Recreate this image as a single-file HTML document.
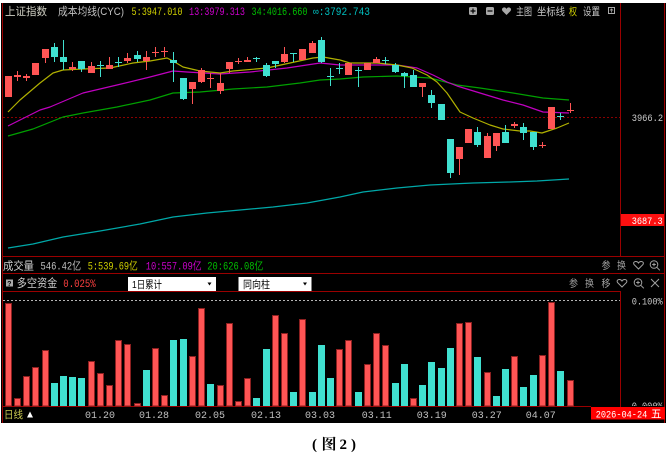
<!DOCTYPE html>
<html><head><meta charset="utf-8"><style>
html,body{margin:0;padding:0;background:#fff;}
svg{display:block;}
.cj{font-family:"Liberation Sans","Noto Sans CJK SC",sans-serif;}
.mn{font-family:"Liberation Mono","Noto Sans CJK SC",monospace;}
</style></head><body>
<svg width="668" height="464" viewBox="0 0 668 464" xmlns="http://www.w3.org/2000/svg">
<defs><clipPath id="cb"><rect x="621" y="292" width="44" height="114"/></clipPath></defs>
<rect x="0" y="0" width="668" height="464" fill="#fff"/>
<rect x="1" y="3" width="665" height="420" fill="#000"/>

<!-- borders -->
<g fill="#9a0000" shape-rendering="crispEdges">
<rect x="2" y="3" width="1" height="420"/>
<rect x="664" y="3" width="1" height="420"/>
<rect x="620" y="3" width="1" height="254"/>
<rect x="620" y="291" width="1" height="116"/>
<rect x="2" y="256" width="663" height="1"/>
<rect x="2" y="273" width="663" height="1"/>
<rect x="2" y="291" width="619" height="1"/>
<rect x="2" y="406" width="589" height="1"/>
</g>
<line x1="3" y1="117.5" x2="620" y2="117.5" stroke="#8a0000" stroke-width="1" stroke-dasharray="2,2"/>
<line x1="3" y1="300.5" x2="620" y2="300.5" stroke="#b4b4b4" stroke-width="1" stroke-dasharray="2,2"/>

<!-- title row -->
<text class="cj" x="5" y="15" font-size="11" fill="#d0d0c4" textLength="42" lengthAdjust="spacingAndGlyphs">上证指数</text>
<text class="cj" x="58" y="15" font-size="11" fill="#c0c0c0" textLength="66" lengthAdjust="spacingAndGlyphs">成本均线(CYC)</text>
<text class="mn" x="131.5" y="15" font-size="11" fill="#d0d000" textLength="51" lengthAdjust="spacingAndGlyphs">5:3947.010</text>
<text class="mn" x="189" y="15" font-size="11" fill="#d000d0" textLength="56" lengthAdjust="spacingAndGlyphs">13:3979.313</text>
<text class="mn" x="251.5" y="15" font-size="11" fill="#00c000" textLength="56" lengthAdjust="spacingAndGlyphs">34:4016.660</text>
<text class="mn" x="313" y="15" font-size="11" fill="#00c0c0" textLength="57" lengthAdjust="spacingAndGlyphs">∞:3792.743</text>

<!-- top right toolbar -->
<rect x="469" y="7" width="8" height="8" rx="1.5" fill="#a8a8a8"/>
<path d="M470.5 11h5M473 8.5v5" stroke="#000" stroke-width="1.2"/>
<rect x="486" y="7" width="8" height="8" rx="1.5" fill="#a8a8a8"/>
<path d="M487.5 11h5" stroke="#000" stroke-width="1.2"/>
<path d="M506.5 15 L502.5 11 Q501 8.5 503.5 7.5 Q505.5 7 506.5 9 Q507.5 7 509.5 7.5 Q512 8.5 510.5 11 Z" fill="#a8a8a8"/>
<text class="cj" x="516" y="15" font-size="10.5" fill="#c8c8c8" textLength="16" lengthAdjust="spacingAndGlyphs">主图</text>
<text class="cj" x="537" y="15" font-size="10.5" fill="#c8c8c8" textLength="28" lengthAdjust="spacingAndGlyphs">坐标线</text>
<text class="cj" x="569" y="15" font-size="10.5" fill="#d0d000" textLength="8" lengthAdjust="spacingAndGlyphs">权</text>
<text class="cj" x="583" y="15" font-size="10.5" fill="#c8c8c8" textLength="17" lengthAdjust="spacingAndGlyphs">设置</text>
<rect x="608.5" y="7.5" width="6" height="6" fill="none" stroke="#a8a8a8" stroke-width="1"/>
<path d="M611.5 9v3.5M610 10.5l1.5-1.5 1.5 1.5" stroke="#a8a8a8" stroke-width="0.8" fill="none"/>

<!-- axis labels -->
<text class="mn" x="631.7" y="121" font-size="10" fill="#c8c8c8" textLength="31.5" lengthAdjust="spacingAndGlyphs">3966.2</text>
<rect x="621" y="214" width="43" height="12" fill="#ff1010"/>
<text class="mn" x="631.7" y="224" font-size="10" fill="#ffffff" textLength="31" lengthAdjust="spacingAndGlyphs">3687.3</text>

<!-- MA lines -->
<g fill="none" stroke-width="1.2" stroke-linejoin="round">
<polyline stroke="#00a8a8" points="8,248 33,244 63,237 100,231 140,224 173,217 207,213 240,210 273,207 307,203 340,197 363,192 397,188 430,185 473,183 510,182 537,181 569,179"/>
<polyline stroke="#00a000" points="8,136 33,129 63,117 83,113 117,107 150,100 173,93 200,92 233,89 267,87 300,83 320,80 340,79 363,77 397,76 430,78 457,85 480,88 513,93 543,98 569,100"/>
<polyline stroke="#c000c0" points="8,126 40,110 50,107 83,93 117,85 150,77 173,71 187,72 220,74 250,72 287,68 320,63 340,65 350,65 397,65 417,68 433,75 447,82 457,86 480,93 503,100 523,105 543,112 569,113"/>
<polyline stroke="#b0b000" points="8,112 20,100 40,83 53,73 63,70 83,69 110,68 133,63 150,61 167,58 173,61 183,67 200,71 220,73 233,71 267,68 290,63 313,58 323,57 340,60 350,63 377,63 397,65 412,68 427,75 437,82 447,93 460,112 473,118 490,125 503,129 520,131 530,131 542,133 557,128 569,123"/>
</g>

<!-- candles red -->
<g fill="#ff5555" shape-rendering="crispEdges">
<rect x="5" y="76" width="7" height="21"/>
<rect x="17" y="71" width="1" height="10"/><rect x="14" y="75" width="7" height="2"/>
<rect x="26" y="74" width="1" height="7"/><rect x="23" y="76" width="7" height="2"/>
<rect x="32" y="63" width="7" height="12"/>
<rect x="45" y="49" width="1" height="14"/><rect x="42" y="49" width="7" height="9"/>
<rect x="72" y="62" width="1" height="9"/><rect x="69" y="67" width="7" height="2"/>
<rect x="91" y="62" width="1" height="11"/><rect x="88" y="66" width="7" height="7"/>
<rect x="109" y="57" width="1" height="12"/><rect x="106" y="65" width="7" height="4"/>
<rect x="127" y="53" width="1" height="10"/><rect x="124" y="58" width="7" height="3"/>
<rect x="146" y="51" width="1" height="19"/><rect x="143" y="57" width="7" height="4"/>
<rect x="155" y="47" width="1" height="10"/><rect x="152" y="52" width="7" height="1"/>
<rect x="164" y="47" width="1" height="10"/><rect x="161" y="51" width="7" height="1"/>
<rect x="192" y="82" width="1" height="22"/><rect x="189" y="82" width="7" height="7"/>
<rect x="201" y="68" width="1" height="15"/><rect x="198" y="70" width="7" height="12"/>
<rect x="210" y="73" width="1" height="15"/><rect x="207" y="78" width="7" height="1"/>
<rect x="220" y="73" width="1" height="21"/><rect x="217" y="83" width="7" height="8"/>
<rect x="229" y="62" width="1" height="11"/><rect x="226" y="62" width="7" height="7"/>
<rect x="238" y="58" width="1" height="6"/><rect x="235" y="61" width="7" height="1"/>
<rect x="247" y="57" width="1" height="5"/><rect x="244" y="60" width="7" height="2"/>
<rect x="284" y="47" width="1" height="16"/><rect x="281" y="54" width="7" height="8"/>
<rect x="299" y="49" width="7" height="11"/>
<rect x="312" y="41" width="1" height="12"/><rect x="309" y="43" width="7" height="10"/>
<rect x="345" y="63" width="7" height="12"/>
<rect x="364" y="63" width="7" height="7"/>
<rect x="376" y="57" width="1" height="6"/><rect x="373" y="59" width="7" height="4"/>
<rect x="422" y="83" width="1" height="14"/><rect x="419" y="83" width="7" height="4"/>
<rect x="459" y="147" width="1" height="28"/><rect x="456" y="147" width="7" height="12"/>
<rect x="465" y="129" width="7" height="14"/>
<rect x="487" y="133" width="1" height="25"/><rect x="484" y="136" width="7" height="22"/>
<rect x="496" y="133" width="1" height="18"/><rect x="493" y="133" width="7" height="13"/>
<rect x="514" y="122" width="1" height="6"/><rect x="511" y="124" width="7" height="2"/>
<rect x="542" y="142" width="1" height="6"/><rect x="539" y="145" width="7" height="1"/>
<rect x="548" y="107" width="7" height="22"/>
<rect x="570" y="103" width="1" height="10"/><rect x="567" y="110" width="7" height="1"/>
</g>
<!-- candles cyan -->
<g fill="#40e0d0" shape-rendering="crispEdges">
<rect x="54" y="43" width="1" height="19"/><rect x="51" y="47" width="7" height="10"/>
<rect x="63" y="40" width="1" height="30"/><rect x="60" y="57" width="7" height="5"/>
<rect x="81" y="61" width="1" height="11"/><rect x="78" y="61" width="7" height="8"/>
<rect x="100" y="61" width="1" height="16"/><rect x="97" y="65" width="7" height="1"/>
<rect x="118" y="57" width="1" height="10"/><rect x="115" y="62" width="7" height="1"/>
<rect x="137" y="51" width="1" height="11"/><rect x="134" y="55" width="7" height="4"/>
<rect x="173" y="52" width="1" height="30"/><rect x="170" y="60" width="7" height="3"/>
<rect x="183" y="78" width="1" height="22"/><rect x="180" y="78" width="7" height="21"/>
<rect x="256" y="57" width="1" height="5"/><rect x="253" y="58" width="7" height="1"/>
<rect x="266" y="63" width="1" height="14"/><rect x="263" y="65" width="7" height="11"/>
<rect x="275" y="61" width="1" height="7"/><rect x="272" y="61" width="7" height="3"/>
<rect x="293" y="53" width="1" height="9"/><rect x="290" y="53" width="7" height="1"/>
<rect x="321" y="37" width="1" height="26"/><rect x="318" y="40" width="7" height="22"/>
<rect x="330" y="68" width="1" height="18"/><rect x="327" y="76" width="7" height="1"/>
<rect x="339" y="63" width="1" height="11"/><rect x="336" y="68" width="7" height="1"/>
<rect x="358" y="67" width="1" height="20"/><rect x="355" y="70" width="7" height="1"/>
<rect x="385" y="57" width="1" height="7"/><rect x="382" y="60" width="7" height="1"/>
<rect x="395" y="63" width="1" height="10"/><rect x="392" y="65" width="7" height="7"/>
<rect x="404" y="72" width="1" height="16"/><rect x="401" y="73" width="7" height="3"/>
<rect x="413" y="70" width="1" height="17"/><rect x="410" y="75" width="7" height="12"/>
<rect x="431" y="90" width="1" height="18"/><rect x="428" y="95" width="7" height="8"/>
<rect x="438" y="104" width="7" height="16"/>
<rect x="450" y="139" width="1" height="39"/><rect x="447" y="139" width="7" height="34"/>
<rect x="477" y="127" width="1" height="20"/><rect x="474" y="132" width="7" height="13"/>
<rect x="505" y="125" width="1" height="18"/><rect x="502" y="132" width="7" height="11"/>
<rect x="523" y="123" width="1" height="17"/><rect x="520" y="127" width="7" height="6"/>
<rect x="533" y="132" width="1" height="18"/><rect x="530" y="132" width="7" height="15"/>
<rect x="560" y="113" width="1" height="7"/><rect x="557" y="116" width="7" height="1"/>
</g>

<!-- volume row -->
<text class="cj" x="3" y="269.5" font-size="11" fill="#d0d0d0" textLength="31" lengthAdjust="spacingAndGlyphs">成交量</text>
<text class="mn" x="40.5" y="269.5" font-size="11" fill="#c0c0c0" textLength="40.5" lengthAdjust="spacingAndGlyphs">546.42亿</text>
<text class="mn" x="87.7" y="269.5" font-size="11" fill="#d0d000" textLength="50" lengthAdjust="spacingAndGlyphs">5:539.69亿</text>
<text class="mn" x="145.7" y="269.5" font-size="11" fill="#d000d0" textLength="56" lengthAdjust="spacingAndGlyphs">10:557.09亿</text>
<text class="mn" x="207.3" y="269.5" font-size="11" fill="#00c000" textLength="56" lengthAdjust="spacingAndGlyphs">20:626.08亿</text>
<g fill="#a0a0a0">
<text class="cj" x="601.5" y="269" font-size="10" textLength="9" lengthAdjust="spacingAndGlyphs">参</text>
<text class="cj" x="617" y="269" font-size="10" textLength="9" lengthAdjust="spacingAndGlyphs">换</text>
</g>
<path d="M638.5 269 L634 264.5 Q632.8 262 635.5 261.5 Q637.5 261.2 638.5 263 Q639.5 261.2 641.5 261.5 Q644.2 262 643 264.5 Z" fill="none" stroke="#a0a0a0" stroke-width="1"/>
<circle cx="654" cy="264.5" r="3.8" fill="none" stroke="#a0a0a0" stroke-width="1"/>
<path d="M656.8 267.3l3 3M652.2 264.5h3.6M654 262.7v3.6" stroke="#a0a0a0" stroke-width="1"/>

<!-- indicator header row -->
<rect x="6" y="279.5" width="7" height="7" fill="#a8a8a8"/>
<text class="mn" x="7.3" y="285.8" font-size="7" font-weight="bold" fill="#000">?</text>
<text class="cj" x="16.7" y="287" font-size="11.5" fill="#d0d0d0" textLength="40.6" lengthAdjust="spacingAndGlyphs">多空资金</text>
<text class="mn" x="63.3" y="287" font-size="11" fill="#ff4040" textLength="32.4" lengthAdjust="spacingAndGlyphs">0.025%</text>
<rect x="128" y="277" width="88" height="14" fill="#fff"/>
<text class="cj" x="132" y="288" font-size="10.5" fill="#000" textLength="30" lengthAdjust="spacingAndGlyphs">1日累计</text>
<polygon points="207.5,282.5 211.5,282.5 209.5,285.5" fill="#000"/>
<rect x="238.5" y="277" width="73" height="14" fill="#fff"/>
<text class="cj" x="243" y="288" font-size="10.5" fill="#000" textLength="27" lengthAdjust="spacingAndGlyphs">同向柱</text>
<polygon points="303,282.5 307,282.5 305,285.5" fill="#000"/>
<g fill="#a0a0a0">
<text class="cj" x="569" y="287" font-size="10" textLength="9" lengthAdjust="spacingAndGlyphs">参</text>
<text class="cj" x="585" y="287" font-size="10" textLength="9" lengthAdjust="spacingAndGlyphs">换</text>
<text class="cj" x="601.5" y="287" font-size="10" textLength="9" lengthAdjust="spacingAndGlyphs">移</text>
</g>
<path d="M622 287 L617.5 282.5 Q616.3 280 619 279.5 Q621 279.2 622 281 Q623 279.2 625 279.5 Q627.7 280 626.5 282.5 Z" fill="none" stroke="#a0a0a0" stroke-width="1"/>
<circle cx="638" cy="282.5" r="3.8" fill="none" stroke="#a0a0a0" stroke-width="1"/>
<path d="M640.8 285.3l3 3M636.2 282.5h3.6M638 280.7v3.6" stroke="#a0a0a0" stroke-width="1"/>
<path d="M651 279l8 8M659 279l-8 8" stroke="#a0a0a0" stroke-width="1"/>

<text class="mn" x="631.7" y="304.5" font-size="10" fill="#c8c8c8" textLength="31" lengthAdjust="spacingAndGlyphs">0.100%</text>
<text class="mn" x="631.7" y="409" font-size="10" fill="#c8c8c8" textLength="31" lengthAdjust="spacingAndGlyphs" clip-path="url(#cb)">0.000%</text>

<!-- indicator bars red -->
<g fill="#ff5555" stroke="#8c2020" stroke-width="1" shape-rendering="crispEdges">
<rect x="5.5" y="303.5" width="6" height="102.5"/>
<rect x="14.5" y="398.5" width="6" height="7.5"/>
<rect x="23.5" y="376.5" width="6" height="29.5"/>
<rect x="32.5" y="367.5" width="6" height="38.5"/>
<rect x="42.5" y="350.5" width="6" height="55.5"/>
<rect x="88.5" y="361.5" width="6" height="44.5"/>
<rect x="97.5" y="373.5" width="6" height="32.5"/>
<rect x="106.5" y="385.5" width="6" height="20.5"/>
<rect x="115.5" y="340.5" width="6" height="65.5"/>
<rect x="124.5" y="344.5" width="6" height="61.5"/>
<rect x="134.5" y="403.5" width="6" height="2.5"/>
<rect x="152.5" y="348.5" width="6" height="57.5"/>
<rect x="161.5" y="395.5" width="6" height="10.5"/>
<rect x="189.5" y="356.5" width="6" height="49.5"/>
<rect x="198.5" y="308.5" width="6" height="97.5"/>
<rect x="217.5" y="385.5" width="6" height="20.5"/>
<rect x="226.5" y="323.5" width="6" height="82.5"/>
<rect x="235.5" y="401.5" width="6" height="4.5"/>
<rect x="244.5" y="378.5" width="6" height="27.5"/>
<rect x="272.5" y="315.5" width="6" height="90.5"/>
<rect x="281.5" y="333.5" width="6" height="72.5"/>
<rect x="299.5" y="319.5" width="6" height="86.5"/>
<rect x="336.5" y="349.5" width="6" height="56.5"/>
<rect x="345.5" y="340.5" width="6" height="65.5"/>
<rect x="364.5" y="364.5" width="6" height="41.5"/>
<rect x="373.5" y="333.5" width="6" height="72.5"/>
<rect x="382.5" y="345.5" width="6" height="60.5"/>
<rect x="410.5" y="398.5" width="6" height="7.5"/>
<rect x="456.5" y="323.5" width="6" height="82.5"/>
<rect x="465.5" y="322.5" width="6" height="83.5"/>
<rect x="484.5" y="372.5" width="6" height="33.5"/>
<rect x="511.5" y="356.5" width="6" height="49.5"/>
<rect x="539.5" y="355.5" width="6" height="50.5"/>
<rect x="548.5" y="302.5" width="6" height="103.5"/>
<rect x="567.5" y="380.5" width="6" height="25.5"/>
</g>
<!-- indicator bars cyan -->
<g fill="#40e0d0" shape-rendering="crispEdges">
<rect x="51" y="383" width="7" height="23"/>
<rect x="60" y="376" width="7" height="30"/>
<rect x="69" y="377" width="7" height="29"/>
<rect x="78" y="378" width="7" height="28"/>
<rect x="143" y="370" width="7" height="36"/>
<rect x="170" y="340" width="7" height="66"/>
<rect x="180" y="339" width="7" height="67"/>
<rect x="207" y="384" width="7" height="22"/>
<rect x="253" y="398" width="7" height="8"/>
<rect x="263" y="349" width="7" height="57"/>
<rect x="290" y="392" width="7" height="14"/>
<rect x="309" y="392" width="7" height="14"/>
<rect x="318" y="345" width="7" height="61"/>
<rect x="327" y="378" width="7" height="28"/>
<rect x="355" y="392" width="7" height="14"/>
<rect x="392" y="383" width="7" height="23"/>
<rect x="401" y="364" width="7" height="42"/>
<rect x="419" y="385" width="7" height="21"/>
<rect x="428" y="362" width="7" height="44"/>
<rect x="438" y="368" width="7" height="38"/>
<rect x="447" y="348" width="7" height="58"/>
<rect x="474" y="357" width="7" height="49"/>
<rect x="493" y="396" width="7" height="10"/>
<rect x="502" y="369" width="7" height="37"/>
<rect x="520" y="387" width="7" height="19"/>
<rect x="530" y="375" width="7" height="31"/>
<rect x="557" y="371" width="7" height="35"/>
</g>

<!-- date row -->
<text class="cj" x="4" y="418" font-size="10.5" fill="#c8c850" textLength="19" lengthAdjust="spacingAndGlyphs">日线</text>
<polygon points="27,417.5 30,411.5 33,417.5" fill="#ffffff"/>
<g class="mn" font-size="10" fill="#c0c0c0" text-anchor="middle">
<text x="100" y="418">01.20</text>
<text x="154" y="418">01.28</text>
<text x="210" y="418">02.05</text>
<text x="266" y="418">02.13</text>
<text x="320" y="418">03.03</text>
<text x="376.7" y="418">03.11</text>
<text x="431.7" y="418">03.19</text>
<text x="486.7" y="418">03.27</text>
<text x="540.7" y="418">04.07</text>
</g>
<rect x="591" y="407" width="74" height="12.5" fill="#ff0000"/>
<text class="mn" x="595.7" y="417.5" font-size="10.5" fill="#ffffff" textLength="51.6" lengthAdjust="spacingAndGlyphs">2026-04-24</text>
<text class="cj" x="651" y="417.5" font-size="11" fill="#ffffff" textLength="10.5" lengthAdjust="spacingAndGlyphs">五</text>

<!-- caption -->
<g font-weight="bold" fill="#000">
<text x="312" y="449" font-size="15" font-family="Liberation Serif, serif">(</text>
<text x="321.5" y="449" font-size="15" font-family="'Noto Serif CJK SC','Noto Sans CJK SC',serif">图</text>
<text x="339.5" y="449" font-size="15" font-family="Liberation Serif, serif">2</text>
<text x="351" y="449" font-size="15" font-family="Liberation Serif, serif">)</text>
</g>
</svg>
</body></html>
